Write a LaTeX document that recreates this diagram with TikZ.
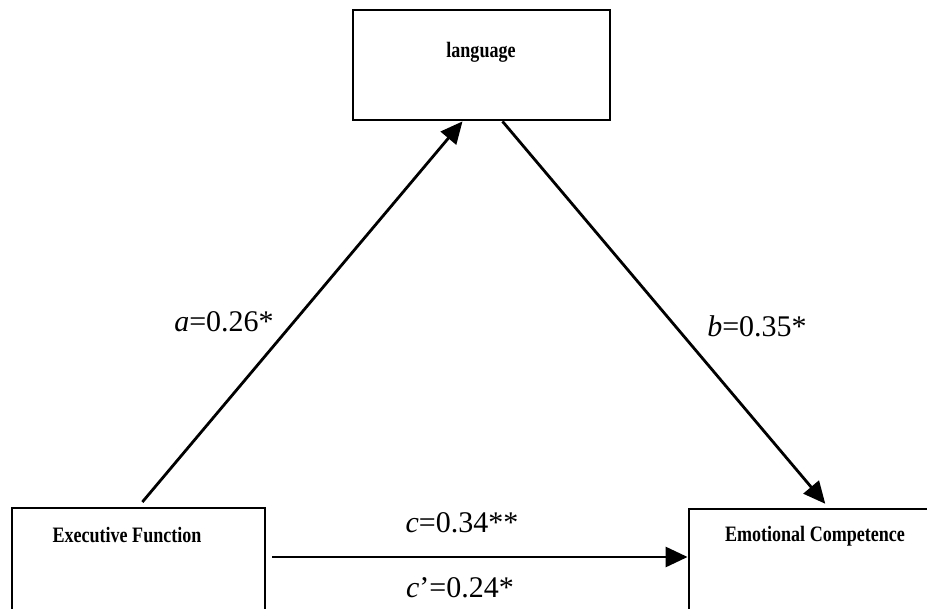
\documentclass[tikz,border=0pt]{standalone}
\usepackage{fontspec}
\setmainfont{Liberation Serif}
\newfontfamily\boxfont[FakeStretch=0.82]{Liberation Serif}
\usetikzlibrary{arrows.meta}

\tikzset{
  varbox/.style={draw=black,line width=2.8pt,rectangle,inner sep=0pt},
  boxtext/.style={font=\boxfont\bfseries\fontsize{22}{24}\selectfont},
  coef/.style={font=\fontsize{30}{32}\selectfont},
  path/.style={line width=2.8pt,-{Triangle[length=22pt,width=20pt]}}
}

\begin{document}
\begin{tikzpicture}[x=1pt,y=-1pt]
  \clip (0,0) rectangle (927,609);

  % Mediator
  \node[varbox,minimum width=257pt,minimum height=110pt] (lang) at (481.5,65) {};
  \node[boxtext] (langtxt) at (481,52) {language};

  % Predictor (cut at the bottom)
  \node[varbox,minimum width=253pt,minimum height=152pt] (exec) at (138.5,584) {};
  \node[boxtext] (exectxt) at (127,535) {Executive Function};

  % Outcome (cut at the right and bottom)
  \node[varbox,minimum width=301pt,minimum height=151pt] (emot) at (839.5,584.5) {};
  \node[boxtext] (emottxt) at (815,536) {Emotional Competence};

  % Paths
  \draw[path,shorten <=6pt] (exec.north) -- ([xshift=-19pt]lang.south);
  \draw[path,shorten >=5pt] ([xshift=21pt]lang.south) -- ([xshift=-11pt]emot.north);
  \draw[path,shorten <=6pt] ([yshift=27pt]exec.east) -- ([yshift=27.5pt]emot.west);

  % Coefficients
  \node[coef] (alab) at (224,322) {\textit{a}=0.26*};
  \node[coef] (blab) at (757,326) {\textit{b}=0.35*};
  \node[coef] (clab) at (462,523) {\textit{c}=0.34**};
  \node[coef] (cplab) at (460,588) {\textit{c}’=0.24*};
\end{tikzpicture}
\end{document}
